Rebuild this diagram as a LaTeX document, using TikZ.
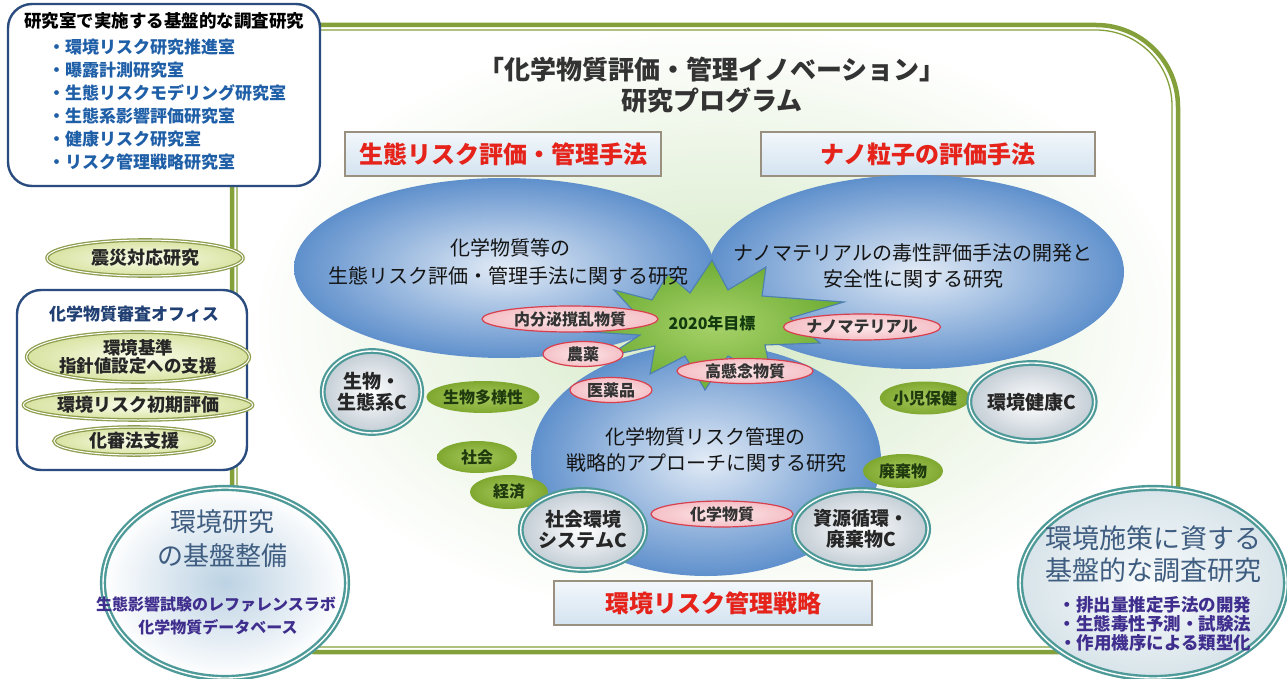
\documentclass[tikz,border=0pt]{standalone}
\usepackage{fontspec}
\setmainfont{Noto Sans CJK JP}
\usetikzlibrary{shapes.geometric}
\definecolor{frameG}{HTML}{84A03A}
\definecolor{frameL}{HTML}{D3E0A8}
\definecolor{navy}{HTML}{2B4C7E}
\definecolor{navyT}{HTML}{203F73}
\definecolor{listBlue}{HTML}{1F5FA8}
\definecolor{redT}{HTML}{E5231B}
\definecolor{boxB}{HTML}{9A9080}
\definecolor{boxT}{HTML}{F2F7FB}
\definecolor{boxBt}{HTML}{D4E3F0}
\definecolor{ellIn}{HTML}{E2EBF6}
\definecolor{ellOut}{HTML}{5F90CC}
\definecolor{pinkB}{HTML}{D8404E}
\definecolor{pinkIn}{HTML}{FDE8EA}
\definecolor{pinkOut}{HTML}{F4C0C6}
\definecolor{grnIn}{HTML}{A6C85C}
\definecolor{grnOut}{HTML}{7FA830}
\definecolor{dkgrn}{HTML}{1F3A0E}
\definecolor{tealB}{HTML}{4E9A98}
\definecolor{circOut}{HTML}{C3CDD5}
\definecolor{oliveB}{HTML}{8E9E4E}
\definecolor{olIn}{HTML}{FAFCEB}
\definecolor{olOut}{HTML}{D9E3A2}
\definecolor{starIn}{HTML}{A8D26A}
\definecolor{starOut}{HTML}{6EAD34}
\definecolor{starB}{HTML}{4D7FB0}
\definecolor{starT}{HTML}{123A0E}
\definecolor{slateT}{HTML}{3F5D80}
\definecolor{purpleT}{HTML}{402E8E}
\definecolor{glow}{HTML}{D3E8C4}
\definecolor{foundIn}{HTML}{BCD2E3}
\definecolor{polIn}{HTML}{F7FAFB}
\definecolor{polOut}{HTML}{D8E4EA}
\newcommand\fsz[2]{\fontsize{#1}{#2}\selectfont}
\tikzset{
 txt/.style={inner sep=0pt, align=center},
 bigell/.style={ellipse, inner sep=0pt, inner color=ellIn, outer color=ellOut},
 pinkell/.style={ellipse, inner sep=0pt, draw=pinkB, line width=1.2pt, inner color=pinkIn, outer color=pinkOut, font=\fsz{16}{18}\bfseries, text=black!80},
 greenell/.style={ellipse, inner sep=0pt, inner color=grnIn, outer color=grnOut, font=\fsz{16}{18}\bfseries, text=dkgrn},
 tealcirc/.style={ellipse, inner sep=0pt, draw=tealB, double=white, double distance=1.4pt, line width=2.2pt, inner color=white, outer color=circOut, font=\fsz{19}{21}\bfseries, align=center, text=black!85},
 oliveell/.style={ellipse, inner sep=0pt, draw=oliveB, double=white, double distance=1pt, line width=1.3pt, inner color=olIn, outer color=olOut, font=\fsz{18}{19}\bfseries, align=center, text=black!85},
 redbox/.style={rectangle, draw=boxB, line width=1.3pt, top color=boxT, bottom color=boxBt, font=\fsz{24}{26}\bfseries, text=redT},
 navybox/.style={rectangle, rounded corners=24pt, draw=navy, line width=2.4pt, fill=white},
 bigtxt/.style={txt, font=\fsz{20}{24}, text=black!92},
 listtxt/.style={inner sep=0pt, anchor=west, font=\fsz{17}{19}\bfseries, text=listBlue},
 roundell/.style={ellipse, inner sep=0pt, draw=tealB, double=white, double distance=1.4pt, line width=2.4pt},
 headtxt/.style={txt, font=\fsz{26}{28}, text=slateT},
 subtxt/.style={txt, font=\fsz{16}{18}\bfseries, text=purpleT},
 frameline/.style={line join=round, frameG},
}
\begin{document}
\begin{tikzpicture}[x=1pt,y=-1pt]
\useasboundingbox (0,0) rectangle (1287,679);
\fill[white] (0,0) rectangle (1287,679);
% background glow
\shade[inner color=glow, outer color=white] (718,322) ellipse [x radius=470, y radius=300];
% programme frame (double line)
\draw[frameline, line width=4.5pt, rounded corners=82pt] (232,652) -- (232,25) -- (1178,25) -- (1178,652) -- cycle;
\draw[frameline, line width=1.3pt, rounded corners=76pt] (237,647) -- (237,30) -- (1172,30) -- (1172,647) -- cycle;

% top-left laboratory box
\node[navybox, minimum width=312pt, minimum height=182pt] (lab) at (164,95) {};
\node[txt, font=\fsz{17.5}{19}\bfseries, text=black] (labT) at (164,21) {研究室で実施する基盤的な調査研究};
\node[listtxt] (l1) at (48,47) {・環境リスク研究推進室};
\node[listtxt] (l2) at (48,70) {・曝露計測研究室};
\node[listtxt] (l3) at (48,93) {・生態リスクモデリング研究室};
\node[listtxt] (l4) at (48,116) {・生態系影響評価研究室};
\node[listtxt] (l5) at (48,139) {・健康リスク研究室};
\node[listtxt] (l6) at (48,162) {・リスク管理戦略研究室};

% left column
\node[oliveell, minimum width=196pt, minimum height=36pt] (quake) at (145,258) {震災対応研究};
\node[navybox, minimum width=230pt, minimum height=180pt] (office) at (132,380) {};
\node[txt, font=\fsz{17}{19}\bfseries, text=navyT] (officeT) at (134,314) {化学物質審査オフィス};
\node[oliveell, font=\fsz{17.5}{18}\bfseries, minimum width=204pt, minimum height=50pt] (std) at (138,357) {環境基準\\指針値設定への支援};
\node[oliveell, minimum width=198pt, minimum height=30pt] (init) at (138,405) {環境リスク初期評価};
\node[oliveell, minimum width=160pt, minimum height=28pt] (kashin) at (134,441) {化審法支援};

% title
\node[txt, font=\fsz{26}{28}\bfseries, text=black!80] (title1) at (712,70) {「化学物質評価・管理イノベーション」};
\node[txt, font=\fsz{26}{28}\bfseries, text=black!80] (title2) at (712,100) {研究プログラム};

% theme boxes
\node[redbox, minimum width=316pt, minimum height=44pt] (boxEco) at (503,154) {生態リスク評価・管理手法};
\node[redbox, minimum width=334pt, minimum height=44pt] (boxNano) at (928,154) {ナノ粒子の評価手法};

% big ellipses
\node[bigell, minimum width=350pt, minimum height=232pt] (botE) at (706,460) {};
\node[bigell, minimum width=420pt, minimum height=180pt] (leftE) at (504,268) {};
\node[bigell, minimum width=416pt, minimum height=194pt] (rightE) at (916,272) {};

% star
\shadedraw[inner color=starIn, outer color=starOut, draw=starB, line width=1.1pt, line join=miter]
 (588,332) -- (640,318) -- (614,290) -- (652,300) -- (668,274) -- (690,293) -- (712,260)
 -- (728,290) -- (766,267) -- (762,296) -- (844,302) -- (790,318) -- (820,343) -- (765,345)
 -- (772,380) -- (728,356) -- (705,390) -- (685,356) -- (650,374) -- (655,346) -- (608,356)
 -- (640,335) -- cycle;
\node[txt, font=\fsz{16}{18}\bfseries, text=starT] (goal) at (712,323) {2020年目標};

% big ellipse texts
\node[bigtxt] (leftT1) at (510,248) {化学物質等の};
\node[bigtxt] (leftT2) at (508,276) {生態リスク評価・管理手法に関する研究};
\node[bigtxt] (rightT1) at (913,253) {ナノマテリアルの毒性評価手法の開発と};
\node[bigtxt] (rightT2) at (913,279) {安全性に関する研究};
\node[bigtxt] (botT1) at (705,437) {化学物質リスク管理の};
\node[bigtxt] (botT2) at (706,463) {戦略的アプローチに関する研究};

% pink substance ellipses
\node[pinkell, minimum width=176pt, minimum height=26pt] (edc) at (570,319) {内分泌撹乱物質};
\node[pinkell, minimum width=80pt, minimum height=25pt] (agri) at (583,354) {農薬};
\node[pinkell, minimum width=82pt, minimum height=25pt] (pharma) at (611,390) {医薬品};
\node[pinkell, minimum width=136pt, minimum height=25pt] (svhc) at (745,371) {高懸念物質};
\node[pinkell, minimum width=140pt, minimum height=26pt] (nanoM) at (862,327) {ナノマテリアル};
\node[pinkell, minimum width=142pt, minimum height=26pt] (chem) at (722,514) {化学物質};

% green topic ellipses
\node[greenell, minimum width=96pt, minimum height=32pt] (bio) at (483,397) {生物多様性};
\node[greenell, minimum width=80pt, minimum height=32pt] (soc) at (477,457) {社会};
\node[greenell, minimum width=78pt, minimum height=34pt] (econ) at (509,492) {経済};
\node[greenell, minimum width=78pt, minimum height=33pt] (child) at (925,398) {小児保健};
\node[greenell, minimum width=80pt, minimum height=34pt] (waste) at (903,471) {廃棄物};

% centres
\node[tealcirc, minimum width=96pt, minimum height=82pt] (cBio) at (372,392) {生物・\\生態系C};
\node[tealcirc, minimum width=100pt, minimum height=80pt] (cSoc) at (583,530) {社会環境\\システムC};
\node[tealcirc, minimum width=102pt, minimum height=78pt] (cRes) at (861,529) {資源循環・\\廃棄物C};
\node[tealcirc, minimum width=96pt, minimum height=78pt] (cHealth) at (1032,402) {環境健康C};

% strategy box
\node[redbox, minimum width=318pt, minimum height=44pt] (boxStrat) at (713,603) {環境リスク管理戦略};

% bottom-left foundation ellipse
\node[roundell, inner color=foundIn, outer color=white, minimum width=244pt, minimum height=190pt] (found) at (225,583) {};
\node[headtxt] (f1) at (222,522) {環境研究};
\node[headtxt] (f2) at (222,556) {の基盤整備};
\node[subtxt] (f3) at (216,604) {生態影響試験のレファレンスラボ};
\node[subtxt] (f4) at (218,627) {化学物質データベース};

% bottom-right policy ellipse
\node[roundell, inner color=polIn, outer color=polOut, minimum width=266pt, minimum height=190pt] (policy) at (1153,583) {};
\node[headtxt, font=\fsz{27}{29}] (p1) at (1153,538) {環境施策に資する};
\node[headtxt, font=\fsz{27}{29}] (p2) at (1153,570) {基盤的な調査研究};
\node[subtxt, font=\fsz{17.5}{19}\bfseries] (p3) at (1155,605) {・排出量推定手法の開発};
\node[subtxt, font=\fsz{17.5}{19}\bfseries] (p4) at (1155,624) {・生態毒性予測・試験法};
\node[subtxt, font=\fsz{17.5}{19}\bfseries] (p5) at (1155,643) {・作用機序による類型化};
\end{tikzpicture}
\end{document}
